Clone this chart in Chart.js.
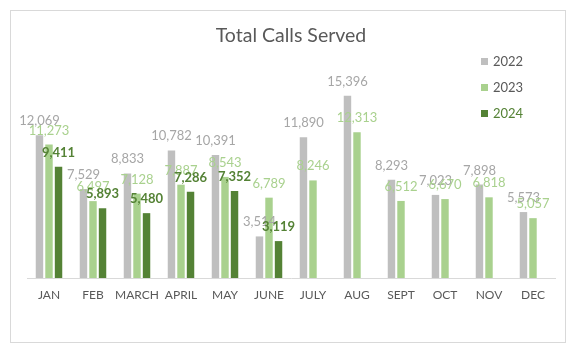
<!DOCTYPE html>
<html>
<head>
<meta charset="utf-8">
<title>Total Calls Served</title>
<script src="https://cdn.jsdelivr.net/npm/chart.js@4"></script>
<style>
    html, body { margin: 0; padding: 0; background: #ffffff; }
    #contenedor { width: 579px; height: 347px; }
</style>
</head>
<body>
<div id="contenedor"><canvas id="grafica"></canvas></div>
<script>
// datos de la grafica
const meses = ["JAN", "FEB", "MARCH", "APRIL", "MAY", "JUNE", "JULY", "AUG", "SEPT", "OCT", "NOV", "DEC"];
const llamadas2022 = [12069, 7529, 8833, 10782, 10391, 3514, 11890, 15396, 8293, 7023, 7898, 5573];
const llamadas2023 = [11273, 6497, 7128, 7887, 8543, 6789, 8246, 12313, 6512, 6670, 6818, 5057];
const llamadas2024 = [9411, 5893, 5480, 7286, 7352, 3119, null, null, null, null, null, null];
const nombresSeries = ["2022", "2023", "2024"];

const colorBarras = ["#bfbfbf", "#a9d18e", "#548235"];
const colorEtiquetas = ["#a6a6a6", "#a9d18e", "#548235"];
const colorLeyenda = ["#595959", "#595959", "#548235"];
const fuente = "Lato, 'Open Sans', sans-serif";

// Cargar el DOM antes de dibujar
document.addEventListener("DOMContentLoaded", function () {
    dibujarGrafica();
});

// marco gris alrededor de la grafica
const pluginMarco = {
    id: "marco",
    beforeDraw(chart) {
        const ctx = chart.ctx;
        ctx.save();
        ctx.fillStyle = "#ffffff";
        ctx.fillRect(0, 0, chart.width, chart.height);
        ctx.strokeStyle = "#d9d9d9";
        ctx.lineWidth = 1;
        ctx.strokeRect(10.5, 10.5, 555, 332);
        ctx.restore();
    }
};

// etiquetas con el valor encima de cada barra
const pluginEtiquetas = {
    id: "etiquetas",
    afterDatasetsDraw(chart) {
        const ctx = chart.ctx;
        ctx.save();
        ctx.textAlign = "center";
        ctx.textBaseline = "alphabetic";
        chart.data.datasets.forEach((serie, i) => {
            const meta = chart.getDatasetMeta(i);
            ctx.fillStyle = colorEtiquetas[i];
            ctx.font = (i === 2 ? "bold " : "") + "13px " + fuente;
            meta.data.forEach((barra, j) => {
                const valor = serie.data[j];
                if (valor === null || valor === undefined) return;
                ctx.fillText(valor.toLocaleString("en-US"), barra.x, barra.y - 10);
            });
        });
        ctx.restore();
    }
};

// leyenda dentro del area, arriba a la derecha
const pluginLeyenda = {
    id: "leyendaExcel",
    afterDraw(chart) {
        const ctx = chart.ctx;
        ctx.save();
        ctx.font = "13px " + fuente;
        ctx.textBaseline = "middle";
        ctx.textAlign = "left";
        nombresSeries.forEach((nombre, i) => {
            const y = 62 + i * 26;
            ctx.fillStyle = colorBarras[i];
            ctx.fillRect(481, y - 4, 7, 7);
            ctx.fillStyle = colorLeyenda[i];
            ctx.fillText(nombre, 493, y);
        });
        ctx.restore();
    }
};

function dibujarGrafica() {
    const canvas = document.getElementById("grafica");

    const series = [llamadas2022, llamadas2023, llamadas2024].map((datos, i) => ({
        label: nombresSeries[i],
        data: datos,
        backgroundColor: colorBarras[i],
        borderWidth: 0,
        categoryPercentage: 0.65,
        barPercentage: 0.78
    }));

    new Chart(canvas, {
        type: "bar",
        data: {
            labels: meses,
            datasets: series
        },
        options: {
            responsive: true,
            maintainAspectRatio: false,
            animation: false,
            layout: {
                padding: { top: 24, left: 27, right: 24, bottom: 45 }
            },
            scales: {
                x: {
                    grid: { display: false, drawTicks: false },
                    border: { display: true, color: "#d9d9d9", width: 1 },
                    ticks: {
                        color: "#595959",
                        padding: 10,
                        font: { family: fuente, size: 12 },
                        maxRotation: 0,
                        autoSkip: false
                    },
                    // alto fijo del eje para que el area quede en su sitio
                    afterFit(escala) {
                        escala.height = 24;
                    }
                },
                y: {
                    display: false,
                    min: 0,
                    max: 18000
                }
            },
            plugins: {
                legend: { display: false },
                tooltip: { enabled: false },
                title: {
                    display: true,
                    text: "Total Calls Served",
                    color: "#595959",
                    font: { family: fuente, size: 19.5, weight: "normal" },
                    padding: { top: 0, bottom: 17.6 }
                }
            }
        },
        plugins: [pluginMarco, pluginEtiquetas, pluginLeyenda]
    });
}
</script>
</body>
</html>
